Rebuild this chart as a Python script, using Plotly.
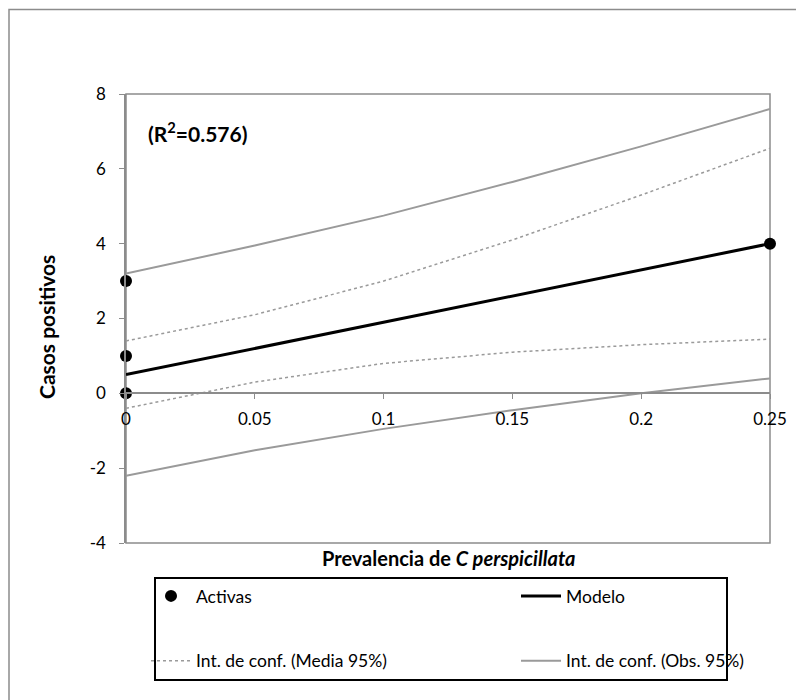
import plotly.graph_objects as go

# Data
obs_x = [0, 0, 0, 0.25]
obs_y = [0, 1, 3, 4]

grid_x = [0, 0.05, 0.1, 0.15, 0.2, 0.25]
model_y = [0.5, 1.2, 1.9, 2.6, 3.3, 4.0]
mean_upper = [1.4, 2.1, 3.0, 4.1, 5.3, 6.55]
mean_lower = [-0.4, 0.3, 0.8, 1.1, 1.3, 1.45]
obs_upper = [3.2, 3.95, 4.75, 5.65, 6.6, 7.6]
obs_lower = [-2.2, -1.52, -0.95, -0.45, 0.0, 0.4]

x_ticks = [0, 0.05, 0.1, 0.15, 0.2, 0.25]
x_ticklabels = ["0", "0.05", "0.1", "0.15", "0.2", "0.25"]
y_ticks = [-4, -2, 0, 2, 4, 6, 8]
y_ticklabels = ["-4", "-2", "0", "2", "4", "6", "8"]

FONT = "Lato"
GRAY = "#8c8c8c"
CI_GRAY = "#9a9a9a"

W, H = 804, 700
OFF = 8  # page body offset
L, T = 118, 86
pw, ph = 644, 449
R = W - L - pw
B = H - T - ph


def px(page_x):
    return (page_x - OFF - L) / pw


def py(page_y):
    return (T + ph - (page_y - OFF)) / ph


fig = go.Figure()

fig.add_trace(go.Scatter(x=grid_x, y=obs_upper, mode="lines", name="Int. de conf. (Obs. 95%)",
                         line=dict(color=CI_GRAY, width=2), legend="legend2", legendgroup="d",
                         legendrank=2))
fig.add_trace(go.Scatter(x=grid_x, y=obs_lower, mode="lines", name="obs_low",
                         line=dict(color=CI_GRAY, width=2), showlegend=False))
fig.add_trace(go.Scatter(x=grid_x, y=mean_upper, mode="lines", name="Int. de conf. (Media 95%)",
                         line=dict(color=CI_GRAY, width=1.5, dash="3px,3px"), legend="legend",
                         legendgroup="c", legendrank=2))
fig.add_trace(go.Scatter(x=grid_x, y=mean_lower, mode="lines", name="mean_low",
                         line=dict(color=CI_GRAY, width=1.5, dash="3px,3px"), showlegend=False))
fig.add_trace(go.Scatter(x=grid_x, y=model_y, mode="lines", name="Modelo",
                         line=dict(color="black", width=3), legend="legend2", legendgroup="b",
                         legendrank=1))
fig.add_trace(go.Scatter(x=obs_x, y=obs_y, mode="markers", name="Activas",
                         marker=dict(color="black", size=12), legend="legend", legendgroup="a",
                         legendrank=1, cliponaxis=False))

legend_common = dict(
    orientation="v", xanchor="left", yanchor="top", bgcolor="rgba(0,0,0,0)",
    borderwidth=0, font=dict(family=FONT, size=17.5, color="black"),
    tracegroupgap=39, traceorder="grouped", itemwidth=40,
)

fig.update_layout(
    width=W, height=H,
    margin=dict(l=L, r=R, t=T, b=B),
    paper_bgcolor="white", plot_bgcolor="white",
    font=dict(family=FONT, size=17, color="black"),
    xaxis=dict(range=[0, 0.25], tickvals=x_ticks, ticktext=x_ticklabels,
               anchor="free", position=1 / 3, showgrid=False, zeroline=False,
               showline=True, linecolor=GRAY, linewidth=1.5,
               ticks="outside", ticklen=5, tickcolor=GRAY, ticklabelstandoff=6,
               tickfont=dict(family=FONT, size=17, color="black")),
    yaxis=dict(range=[-4, 8], tickvals=y_ticks, ticktext=y_ticklabels, domain=[0, 1],
               showgrid=False, zeroline=False, showline=True, linecolor=GRAY, linewidth=1.5,
               ticks="outside", ticklen=5, tickcolor=GRAY, ticklabelstandoff=10,
               tickfont=dict(family=FONT, size=17, color="black")),
    legend=dict(x=px(146), y=py(578), **legend_common),
    legend2=dict(x=px(516), y=py(578), **legend_common),
    showlegend=True,
)

shapes = [
    # plot area border
    dict(type="rect", xref="paper", yref="paper", x0=0, x1=1, y0=0, y1=1,
         line=dict(color=GRAY, width=1.5), layer="below"),
    # outer chart border
    dict(type="rect", xref="paper", yref="paper", x0=px(9), x1=px(830), y0=py(9.5), y1=py(730),
         line=dict(color=GRAY, width=1.5)),
    # legend box
    dict(type="rect", xref="paper", yref="paper", x0=px(155), x1=px(727), y0=py(578), y1=py(680),
         line=dict(color="black", width=2)),
]
fig.update_layout(shapes=shapes)

fig.add_annotation(text="<b>(R<sup>2</sup>=0.576)</b>", xref="paper", yref="paper",
                   x=px(146), y=py(132), xanchor="left", yanchor="middle", showarrow=False,
                   font=dict(family=FONT, size=21, color="black"))
fig.add_annotation(text="<b>Prevalencia de <i>C perspicillata</i></b>", xref="paper", yref="paper",
                   x=px(448), y=py(558), xanchor="center", yanchor="middle", showarrow=False,
                   font=dict(family=FONT, size=20, color="black"))
fig.add_annotation(text="<b>Casos positivos</b>", xref="paper", yref="paper",
                   x=px(46), y=py(327), xanchor="center", yanchor="middle", textangle=-90,
                   showarrow=False, font=dict(family=FONT, size=21, color="black"))

fig.write_html("out.html")
